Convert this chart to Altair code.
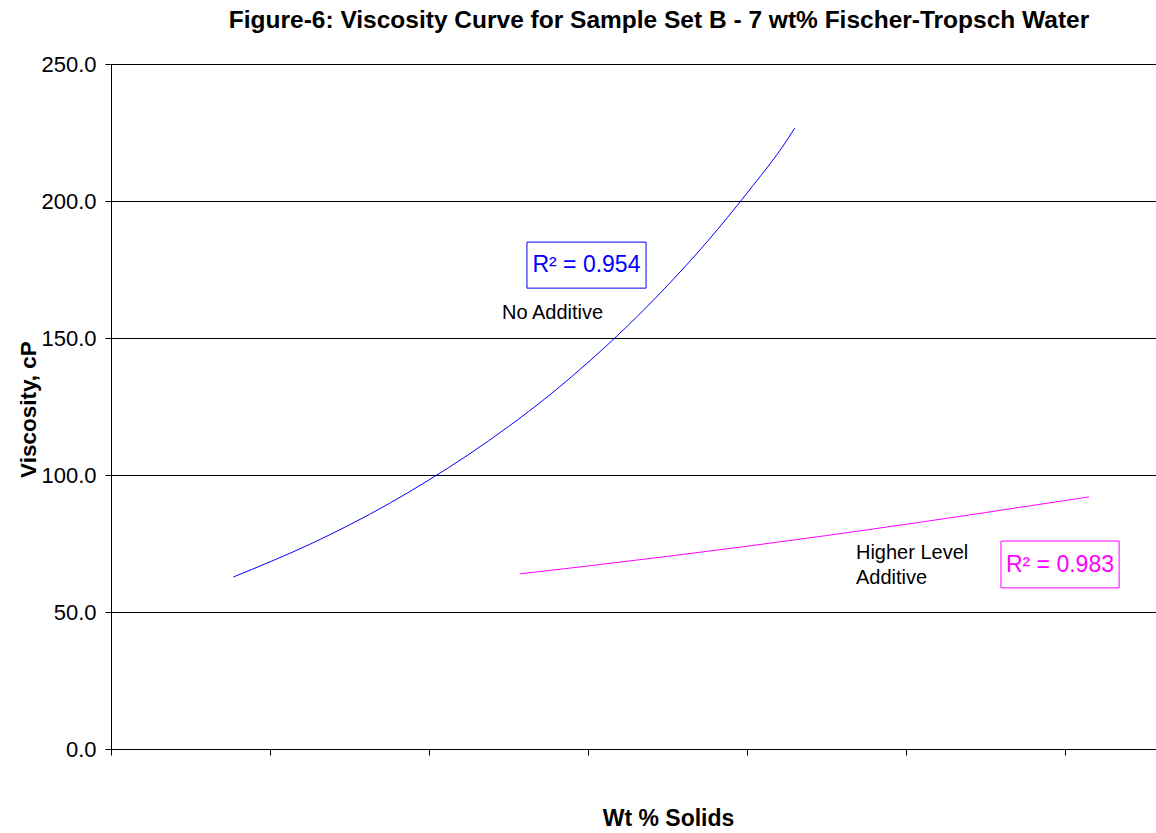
import altair as alt
import pandas as pd

# Curve readings (x in axis-tick units, y in cP)
no_add_x = [0.77, 1.0, 1.25, 1.5, 1.75, 2.0, 2.25, 2.5, 2.75, 3.0, 3.25, 3.5, 3.75, 4.0, 4.25, 4.3]
no_add_y = [62.8, 68.3, 74.7, 81.8, 89.6, 98.2, 107.5, 117.7, 128.8, 141.1, 154.5, 169.2, 185.2, 202.9, 222.1, 226.6]
hi_add_x = [2.57, 3.0, 3.5, 4.0, 4.5, 5.0, 5.5, 6.15]
hi_add_y = [63.9, 66.8, 70.3, 74.0, 77.9, 82.0, 86.3, 92.0]
series_names = ["No Additive", "Higher Level Additive"]
series_colors = ["#0000FF", "#FF00FF"]
y_ticks = [0, 50, 100, 150, 200, 250]
x_ticks = [0, 1, 2, 3, 4, 5, 6]
title_text = "Figure-6: Viscosity Curve for Sample Set B - 7 wt% Fischer-Tropsch Water"

FONT = "Liberation Sans"

rows = []
for x, y in zip(no_add_x, no_add_y):
    rows.append({"x": x, "y": y, "series": series_names[0]})
for x, y in zip(hi_add_x, hi_add_y):
    rows.append({"x": x, "y": y, "series": series_names[1]})
df = pd.DataFrame(rows)

# annotation layout (data coordinates)
r2_labels = ["R\u00b2 = 0.954", "R\u00b2 = 0.983"]
r2_box = pd.DataFrame({
    "x": [2.616, 5.597], "x2": [3.365, 6.340],
    "y": [185.0, 75.9], "y2": [168.2, 58.8],
    "tx": [2.99, 5.968], "ty": [176.6, 67.3],
    "text": r2_labels, "series": series_names,
})
notes = pd.DataFrame({
    "x": [2.459, 4.685, 4.685],
    "y": [159.1, 71.5, 62.4],
    "text": ["No Additive", "Higher Level", "Additive"],
})

xscale = alt.Scale(domain=[0, 6.572], nice=False, zero=False)
yscale = alt.Scale(domain=[0, 250], nice=False)
color = alt.Color("series:N", scale=alt.Scale(domain=series_names, range=series_colors), legend=None)

lines = alt.Chart(df).mark_line(strokeWidth=1, clip=True, interpolate="monotone").encode(
    x=alt.X("x:Q", scale=xscale, axis=alt.Axis(
        values=x_ticks, labels=False, grid=False, tickSize=6, tickColor="black",
        domainColor="black", title="Wt % Solids", titleFont=FONT, titleFontSize=23,
        titleFontWeight="bold", titleColor="black", titleX=557, titleY=69,
        titleBaseline="middle", titleAnchor="middle")),
    y=alt.Y("y:Q", scale=yscale, axis=alt.Axis(
        values=y_ticks, format=".1f", grid=True, gridColor="black", gridOpacity=1,
        gridWidth=1, tickSize=6, tickColor="black", domainColor="black",
        labelFont=FONT, labelFontSize=22, labelColor="black", labelPadding=9,
        title="Viscosity, cP", titleFont=FONT, titleFontSize=22.5, titleFontWeight="bold",
        titleColor="black", titleX=-83, titleY=345, titleAngle=270,
        titleBaseline="middle", titleAnchor="middle")),
    color=color,
    order="x:Q",
)

boxes = alt.Chart(r2_box).mark_rect(fill="white", strokeWidth=1).encode(
    x="x:Q", x2="x2:Q", y="y:Q", y2="y2:Q",
    stroke=alt.Stroke("series:N", scale=alt.Scale(domain=series_names, range=series_colors), legend=None),
)
box_text = alt.Chart(r2_box).mark_text(font=FONT, fontSize=23, align="center", baseline="middle").encode(
    x="tx:Q", y="ty:Q", text="text:N", color=color,
)
note_text = alt.Chart(notes).mark_text(font=FONT, fontSize=20, align="left", baseline="middle", color="black").encode(
    x="x:Q", y="y:Q", text="text:N",
)
title_mark = alt.Chart(pd.DataFrame({"t": [title_text]})).mark_text(
    font=FONT, fontSize=24.5, fontWeight="bold", color="black", align="center", baseline="alphabetic"
).encode(x=alt.value(548), y=alt.value(-36), text="t:N")

chart = alt.layer(lines, boxes, box_text, note_text, title_mark).properties(
    width=1045, height=685,
    padding={"left": 111, "top": 64, "right": 0, "bottom": 84},
    autosize=alt.AutoSizeParams(type="none"),
).configure_view(stroke=None).configure(background="white")

chart.save("out.html", embed_options={"renderer": "svg", "actions": False})
